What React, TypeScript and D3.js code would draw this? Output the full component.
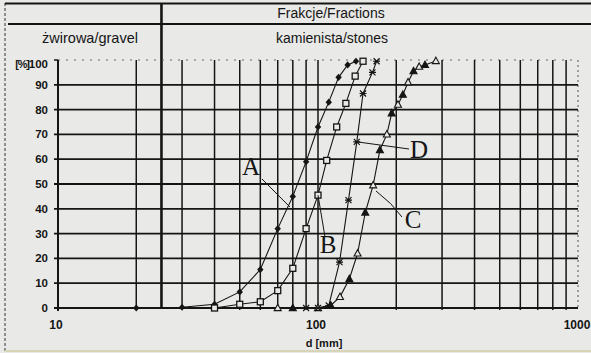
import * as d3 from 'd3';
import React from 'react';

// grain size curves: d [mm] and passing [%]
const dA = [20, 30, 40, 50, 60, 70, 80, 90, 100, 110, 120, 130, 140];
const pA = [0, 0.3, 1.5, 6.5, 15.5, 32, 45, 59, 73, 83, 93, 98, 99.5];

const dB = [40, 50, 60, 70, 80, 90, 100, 108, 118, 128, 139, 149];
const pB = [0, 1.5, 2.5, 7, 16, 32, 45.5, 59.5, 73, 82.5, 93.5, 99.5];

const dC = [70, 80, 100, 112, 121.5, 132, 142, 152, 163, 173, 184, 192, 203, 212, 222, 233, 245, 258, 284];
const pC = [0, 0, 0, 1, 4.5, 11.7, 22, 38.5, 49.5, 63.7, 70, 78.5, 82, 86, 91, 95.5, 97.3, 98, 99.6];

const dD = [90, 100, 110, 121, 131, 141, 149, 162, 168];
const pD = [0, 0, 1, 18.5, 43.5, 67, 86.5, 95, 99.5];

const yTicks = [0, 10, 20, 30, 40, 50, 60, 70, 80, 90];
const xGrid = [20, 30, 40, 50, 60, 70, 80, 90, 100, 200, 300, 400, 500, 600, 700, 800, 900];
const xLabels = [10, 100, 1000];
const fractionLimit = 25;

const W = 591;
const H = 353;
const sans = '"Liberation Sans", Arial, sans-serif';
const serif = '"Liberation Serif", "Times New Roman", serif';

export default function App() {
    const x = d3.scaleLog().domain([10, 1000]).range([58, 578]);
    const y = d3.scaleLinear().domain([0, 100]).range([308, 60]);

    const line = d3.line<[number, number]>()
        .x(d => x(d[0]))
        .y(d => y(d[1]));

    const zip = (ds: number[], ps: number[]) => ds.map((d, i) => [d, ps[i]] as [number, number]);
    const A = zip(dA, pA), B = zip(dB, pB), C = zip(dC, pC), D = zip(dD, pD);

    const ink = '#151515';
    const bg = '#e9e9e7';

    return (
        <div style={{ position: 'absolute', left: 0, top: 0 }}>
            <svg width={W} height={H} style={{ display: 'block' }}>
                <rect width={W} height={H} fill={bg} />

                {/* outer frame + header */}
                <line x1={5} x2={5} y1={3} y2={351} stroke="#333" strokeWidth={1} strokeDasharray="3,2" />
                <line x1={5} x2={W} y1={3.5} y2={3.5} stroke={ink} strokeWidth={2} />
                <line x1={8} x2={W} y1={24} y2={24} stroke={ink} strokeWidth={2} />
                <line x1={5} x2={W} y1={351} y2={351} stroke="#d8d4b8" strokeWidth={2} />
                <line x1={x(fractionLimit)} x2={x(fractionLimit)} y1={3} y2={y(0)} stroke={ink} strokeWidth={2.6} />

                <text x={331} y={18} textAnchor="middle" fontFamily={sans} fontSize={14} fill={ink}>Frakcje/Fractions</text>
                <text x={90} y={43} textAnchor="middle" fontFamily={sans} fontSize={14.5} fill={ink}>żwirowa/gravel</text>
                <text x={332} y={43} textAnchor="middle" fontFamily={sans} fontSize={14} fill={ink}>kamienista/stones</text>

                {/* grid */}
                <line x1={x(10)} x2={x(1000)} y1={y(100)} y2={y(100)} stroke="#666" strokeWidth={1} strokeDasharray="2,6" />
                <line x1={x(1000)} x2={x(1000)} y1={y(100)} y2={y(0)} stroke="#555" strokeWidth={1} strokeDasharray="2,3" />
                {yTicks.filter(t => t > 0).map(t => (
                    <line key={'h' + t} x1={54} x2={x(1000)} y1={y(t)} y2={y(t)} stroke={ink} strokeWidth={1.8} />
                ))}
                {xGrid.map(v => (
                    <line key={'v' + v} x1={x(v)} x2={x(v)} y1={y(100)} y2={y(0) + 2} stroke={ink} strokeWidth={1.5} />
                ))}
                <line x1={x(10)} x2={x(10)} y1={y(100)} y2={y(0) + 3} stroke={ink} strokeWidth={2} />
                <line x1={54} x2={54 + 4} y1={y(100)} y2={y(100)} stroke={ink} strokeWidth={1.5} />
                <line x1={54} x2={x(1000)} y1={y(0)} y2={y(0)} stroke={ink} strokeWidth={2} />

                {/* axis labels */}
                {yTicks.map(t => (
                    <text key={'yl' + t} x={48} y={y(t) + 4} textAnchor="end" fontFamily={sans} fontSize={11.5} fontWeight="bold" fill={ink}>{t}</text>
                ))}
                <text x={48} y={68} textAnchor="end" fontFamily={sans} fontSize={11.5} fontWeight="bold" fill={ink}>
                    <tspan fontSize={11} letterSpacing={-1.2}>[%]</tspan>100
                </text>
                {xLabels.map(v => (
                    <text key={'xl' + v} x={x(v) - (v === 1000 ? 1 : 2)} y={329} textAnchor="middle" fontFamily={sans} fontSize={12} fontWeight="bold" fill={ink}>{v}</text>
                ))}
                <text x={324} y={347} textAnchor="middle" fontFamily={sans} fontSize={11} fontWeight="bold" fill={ink}>d [mm]</text>

                {/* curves */}
                {[A, B, C, D].map((s, i) => (
                    <path key={'c' + i} d={line(s) || ''} fill="none" stroke={ink} strokeWidth={1.1} />
                ))}

                {A.map((p, i) => (
                    <path key={'ma' + i} transform={`translate(${x(p[0])},${y(p[1])})`} d="M0,-3.6L3.2,0L0,3.6L-3.2,0Z" fill={ink} />
                ))}
                {B.map((p, i) => (
                    <rect key={'mb' + i} x={x(p[0]) - 3} y={y(p[1]) - 3} width={6} height={6} fill={bg} stroke={ink} strokeWidth={1.3} />
                ))}
                {C.map((p, i) => (
                    <path key={'mc' + i} transform={`translate(${x(p[0])},${y(p[1])})`} d="M0,-3.8L3.5,2.6L-3.5,2.6Z"
                        fill={i % 2 === 0 ? bg : ink} stroke={ink} strokeWidth={1.1} />
                ))}
                {D.map((p, i) => (
                    <path key={'md' + i} transform={`translate(${x(p[0])},${y(p[1])})`} d="M-3,-3L3,3M3,-3L-3,3M-3.5,0L3.5,0"
                        fill="none" stroke={ink} strokeWidth={1.2} />
                ))}

                {/* curve labels */}
                <line x1={262} y1={179} x2={x(78)} y2={207} stroke={ink} strokeWidth={1} />
                <text x={251} y={175} textAnchor="middle" fontFamily={serif} fontSize={25} fill={ink}>A</text>
                <line x1={325} y1={237} x2={x(100)} y2={y(45.5)} stroke={ink} strokeWidth={1} />
                <text x={328} y={253} textAnchor="middle" fontFamily={serif} fontSize={25} fill={ink}>B</text>
                <path d={`M${x(141)},${y(67)}L409,149`} stroke={ink} strokeWidth={1} fill="none" />
                <text x={419} y={158} textAnchor="middle" fontFamily={serif} fontSize={25} fill={ink}>D</text>
                <path d={`M376,191Q392,203 402,217`} stroke={ink} strokeWidth={1} fill="none" />
                <text x={413} y={228} textAnchor="middle" fontFamily={serif} fontSize={25} fill={ink}>C</text>
            </svg>
        </div>
    );
}
